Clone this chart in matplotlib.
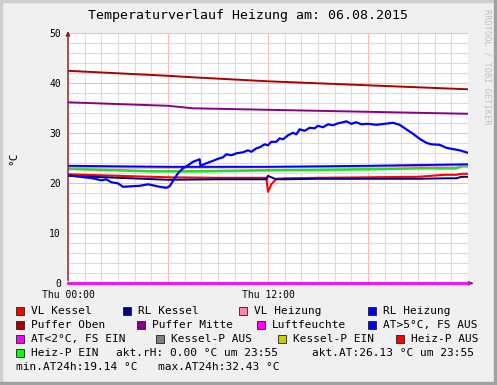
import matplotlib
matplotlib.use("Agg")
import matplotlib.pyplot as plt
from matplotlib.patches import Rectangle

W, H = 497, 385

# time in hours, values in degC
t_lin = [0, 6, 7.5, 12, 18, 24]
puffer_oben = [42.5, 41.5, 41.2, 40.4, 39.6, 38.8]
puffer_mitte = [36.2, 35.5, 35.0, 34.7, 34.3, 33.9]

t_rl_hz = [0, 6, 12, 18, 24]
rl_heizung = [23.5, 23.3, 23.3, 23.5, 23.8]
vl_heizung = [23.2, 23.1, 23.2, 23.3, 23.6]

t_gruen = [0, 5, 8, 12, 18, 21, 23.3, 23.6, 24]
heiz_p = [22.9, 22.4, 22.4, 22.6, 22.8, 23.0, 23.0, 23.4, 23.4]

t_kessel = [0, 3, 6, 9, 11.9, 12.0, 12.2, 12.5, 13, 15, 18, 21, 22.6, 23.3, 23.6, 24]
vl_kessel = [21.8, 21.5, 21.2, 21.1, 21.1, 18.3, 19.8, 20.9, 21.0, 21.1, 21.2, 21.3, 21.7, 21.7, 21.9, 21.9]
rl_kessel = [21.5, 21.1, 20.7, 20.8, 20.8, 21.5, 21.2, 20.8, 20.8, 20.9, 20.9, 20.9, 21.0, 21.0, 21.3, 21.3]

t_luft = [0, 24]
luftfeuchte = [0, 0]

t_at = [0, 0.5, 1.0, 1.5, 2.0, 2.3, 2.6, 3.0, 3.3, 3.8, 4.3, 4.8, 5.1, 5.5, 5.9,
        6.1, 6.4, 6.6, 6.9, 7.2, 7.5, 7.9, 7.95, 8.3, 8.7, 9.0, 9.3, 9.5, 9.8,
        10.1, 10.5, 10.8, 11.0, 11.3, 11.5, 11.8, 12.0, 12.2, 12.5, 12.7, 12.9,
        13.2, 13.5, 13.7, 13.9, 14.2, 14.5, 14.8, 15.0, 15.3, 15.6, 15.9, 16.2,
        16.5, 16.7, 17.0, 17.3, 17.6, 18.0, 18.5, 19.0, 19.5, 19.9, 20.3, 20.7,
        21.1, 21.5, 21.8, 22.3, 22.7, 23.0, 23.5, 24.0]
at_aussen = [21.6, 21.4, 21.2, 21.0, 20.6, 20.8, 20.2, 20.0, 19.3, 19.4, 19.5, 19.8, 19.6, 19.3, 19.1,
             19.4, 21.0, 22.0, 23.0, 23.6, 24.3, 24.8, 23.5, 24.0, 24.5, 24.9, 25.2, 25.8, 25.6,
             26.0, 26.2, 26.6, 26.3, 27.0, 27.2, 27.8, 27.6, 28.3, 28.3, 29.0, 28.8,
             29.6, 30.1, 29.8, 30.8, 30.5, 31.1, 31.0, 31.5, 31.2, 31.8, 31.6, 32.0,
             32.2, 32.4, 31.9, 32.2, 31.8, 31.9, 31.7, 31.9, 32.1, 31.7, 30.8, 29.9,
             28.9, 28.1, 27.8, 27.7, 27.1, 26.9, 26.6, 26.1]

legend_labels = [["VL Kessel", "RL Kessel", "VL Heizung", "RL Heizung"],
                 ["Puffer Oben", "Puffer Mitte", "Luftfeuchte", "AT>5°C, FS AUS"],
                 ["AT<2°C, FS EIN", "Kessel-P AUS", "Kessel-P EIN", "Heiz-P AUS"],
                 ["Heiz-P EIN"]]
legend_colors = [["#ff0000", "#000080", "#ff88a8", "#0000ff"],
                 ["#aa0000", "#880088", "#ff00ff", "#0000ff"],
                 ["#ff00ff", "#808080", "#cccc00", "#ff0000"],
                 ["#00ff00"]]
legend_cols = [[16, 123, 239, 368], [16, 137, 257, 368], [16, 156, 278, 396], [16]]
legend_rows = [311, 325, 339, 353]

fig = plt.figure(figsize=(W / 100, H / 100), dpi=100, facecolor="#f0f0f0")
ax = fig.add_axes([68 / W, 1 - 283.3 / H, 400 / W, 250 / H])
ax.set_facecolor("white")

ax.plot(t_lin, puffer_oben, color="#aa0000", lw=1.4)
ax.plot(t_lin, puffer_mitte, color="#880088", lw=1.4)
ax.plot(t_gruen, heiz_p, color="#22e022", lw=1.9)
ax.plot(t_rl_hz, vl_heizung, color="#ff88a8", lw=1.4)
ax.plot(t_rl_hz, rl_heizung, color="#0000ff", lw=1.4)
ax.plot(t_kessel, vl_kessel, color="#ff0000", lw=1.5)
ax.plot(t_kessel, rl_kessel, color="#000080", lw=1.4)
ax.plot(t_at, at_aussen, color="#0000ff", lw=1.6)
ax.plot(t_luft, luftfeuchte, color="#ff00ff", lw=2.0, clip_on=False, zorder=5)

ax.set_xlim(0, 24)
ax.set_ylim(0, 50)
ax.set_xticks([0, 6, 12, 18, 24])
ax.set_xticklabels(["Thu 00:00", "", "Thu 12:00", "", ""])
ax.set_xticks(range(0, 25), minor=True)
ax.set_yticks(range(0, 51, 10))
ax.set_yticks(range(0, 51, 2), minor=True)
ax.grid(which="minor", color="#dcdcdc", lw=0.8)
ax.grid(which="major", color="#ffb8b8", lw=0.8)
ax.set_axisbelow(True)
ax.tick_params(which="both", length=0, labelsize=7, pad=5)
for lab in ax.get_xticklabels() + ax.get_yticklabels():
    lab.set_family("DejaVu Sans Mono")
ax.tick_params(axis="x", pad=5)

for s in ["top", "right", "bottom", "left"]:
    ax.spines[s].set_visible(False)
ax.annotate("", xy=(0, 1.02), xytext=(0, 0), xycoords="axes fraction",
            arrowprops=dict(arrowstyle="-|>", color="#802020", lw=1, mutation_scale=6),
            annotation_clip=False)
ax.annotate("", xy=(1.013, 0), xytext=(1.0, 0), xycoords="axes fraction",
            arrowprops=dict(arrowstyle="-|>", color="#802020", lw=1, mutation_scale=6),
            annotation_clip=False)

ax.set_ylabel("°C", fontsize=8, family="DejaVu Sans Mono")
ax.yaxis.set_label_coords(-50 / 400, 0.5)

def px(x, y):
    return x / W, 1 - y / H

fig.text(*px(248, 16), "Temperaturverlauf Heizung am: 06.08.2015", ha="center", va="center",
         fontsize=9.5, family="DejaVu Sans Mono")
fig.text(*px(487, 67), "RRDTOOL / TOBI OETIKER", ha="center", va="center", rotation=270,
         fontsize=6.2, family="DejaVu Sans Mono", color="#c0c0c0")

for labels, colors, cols, y in zip(legend_labels, legend_colors, legend_cols, legend_rows):
    for lab, col, x in zip(labels, colors, cols):
        fig.patches.append(Rectangle(px(x, y + 4), 8 / W, 8 / H, transform=fig.transFigure,
                                     facecolor=col, edgecolor="#202020", lw=0.6))
        fig.text(*px(x + 15, y), lab, va="center", fontsize=8, family="DejaVu Sans Mono")

fig.text(*px(116, 353), "akt.rH: 0.00 °C um 23:55", va="center", fontsize=8, family="DejaVu Sans Mono")
fig.text(*px(312, 353), "akt.AT:26.13 °C um 23:55", va="center", fontsize=8, family="DejaVu Sans Mono")
fig.text(*px(16, 367), "min.AT24h:19.14 °C", va="center", fontsize=8, family="DejaVu Sans Mono")
fig.text(*px(158, 367), "max.AT24h:32.43 °C", va="center", fontsize=8, family="DejaVu Sans Mono")

# 3D frame around the image
fig.patches.append(Rectangle((0, 0), 2 / W, 1, transform=fig.transFigure, color="#cfcfcf"))
fig.patches.append(Rectangle((0, 1 - 2 / H), 1, 2 / H, transform=fig.transFigure, color="#cfcfcf"))
fig.patches.append(Rectangle((1 - 3 / W, 0), 3 / W, 1, transform=fig.transFigure, color="#a0a0a0"))
fig.patches.append(Rectangle((0, 0), 1, 3 / H, transform=fig.transFigure, color="#a0a0a0"))

fig.savefig("out.png", dpi=100, facecolor=fig.get_facecolor())
